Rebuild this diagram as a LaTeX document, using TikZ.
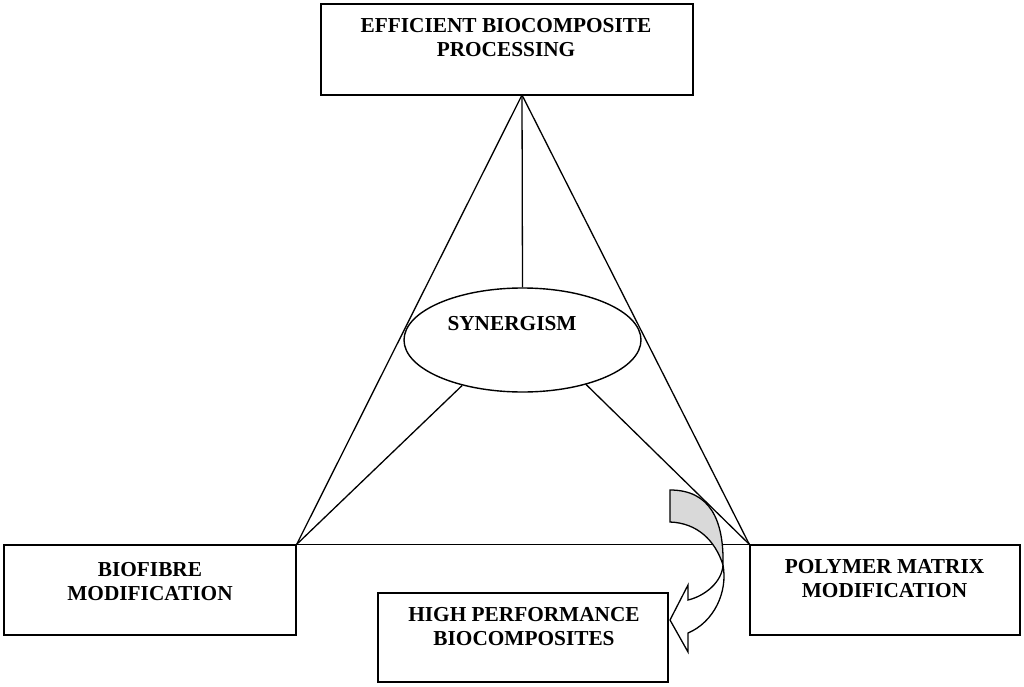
\documentclass[tikz,border=0pt]{standalone}
\usepackage{fontspec}
\setmainfont{Liberation Serif}
\usetikzlibrary{shapes.geometric}
\begin{document}
\begin{tikzpicture}[x=1pt,y=-1pt,
  box/.style={draw,line width=1.4pt,fill=white,inner sep=0pt},
  lbl/.style={anchor=north,inner sep=0pt,align=center,font=\fontsize{21.3}{24.5}\selectfont\bfseries},
  conn/.style={line width=1.3pt},
  arrowshape/.style={draw,line width=1.3pt,line join=miter}]
\useasboundingbox (0,0) rectangle (1024,687);
% boxes
\node[box,minimum width=372pt,minimum height=91pt] (top) at (507,49.5) {};
\node[box,minimum width=292pt,minimum height=90pt] (left) at (150,590) {};
\node[box,minimum width=270pt,minimum height=90pt] (right) at (885,590) {};
\node[box,minimum width=290pt,minimum height=89pt] (bottom) at (523,637.5) {};
\node[draw,ellipse,line width=1.4pt,minimum width=237pt,minimum height=104pt,inner sep=0pt] (syn) at (522.5,340) {};
% labels
\node[lbl] (ttop) at (506,18) {EFFICIENT BIOCOMPOSITE\\PROCESSING};
\node[lbl] (tleft) at (150,562) {BIOFIBRE\\MODIFICATION};
\node[lbl] (tright) at (884.5,559) {POLYMER MATRIX\\MODIFICATION};
\node[lbl] (tbottom) at (524,607) {HIGH PERFORMANCE\\BIOCOMPOSITES};
\node[lbl] (tsyn) at (512,316) {SYNERGISM};
% connectors
\coordinate (apex) at (522,95);
\draw[conn] (apex) -- (left.north east);
\draw[conn] (apex) -- (right.north west);
\draw[conn] (apex) -- (syn.north);
\draw[conn] (left.north east) -- (right.north west);
\draw[conn] (left.north east) -- (syn.217);
\draw[conn] (right.north west) -- (syn.325);
% curved arrow
\coordinate (tailtop) at (670,490);
\coordinate (tailbot) at (670,522);
\coordinate (cross) at (723,565);
\coordinate (notchup) at (688,600);
\coordinate (barbup) at (688,585);
\coordinate (tip) at (670,620);
\coordinate (barbdn) at (688,652);
\coordinate (notchdn) at (688,633);
\draw[arrowshape,fill=gray!30] (tailtop) .. controls (710,490) and (724,520) .. (cross)
   .. controls (715,540) and (697,523) .. (tailbot) -- cycle;
\draw[arrowshape,fill=white] (cross) .. controls (722,582) and (705,596) .. (notchup)
   -- (barbup) -- (tip) -- (barbdn) -- (notchdn)
   .. controls (714,622) and (728,592) .. (cross);
\end{tikzpicture}
\end{document}
